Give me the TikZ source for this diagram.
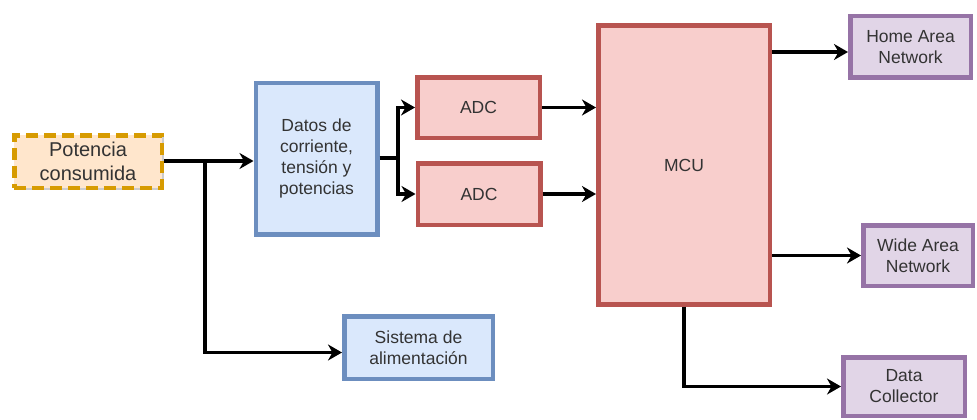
\documentclass[tikz,border=0pt]{standalone}
\usepackage{fontspec}
\setmainfont{Liberation Sans}
\usetikzlibrary{arrows.meta,shadows}

\definecolor{redline}{HTML}{B85450}
\definecolor{redfill}{HTML}{F8CECC}
\definecolor{blueline}{HTML}{6C8EBF}
\definecolor{bluefill}{HTML}{DAE8FC}
\definecolor{purpline}{HTML}{9673A6}
\definecolor{purpfill}{HTML}{E1D5E7}
\definecolor{orgline}{HTML}{D79B00}
\definecolor{orgfill}{HTML}{FFE6CC}
\definecolor{txt}{HTML}{333333}

\begin{document}
\begin{tikzpicture}[x=1pt,y=-1pt,
  box/.style={draw, line width=4.5pt, align=center, inner sep=0pt,
    text=txt, font=\fontsize{17.5}{21}\selectfont,
    drop shadow={shadow xshift=2pt, shadow yshift=-2pt, opacity=0.2, fill=black}},
  redbox/.style={box, draw=redline, fill=redfill},
  bluebox/.style={box, draw=blueline, fill=bluefill},
  purpbox/.style={box, draw=purpline, fill=purpfill},
  arr/.style={draw=black, line width=3.5pt,
    -{Stealth[length=14pt, width=16pt, inset=4.5pt]}}
]
\useasboundingbox (0,0) rectangle (977,420);

% source
\node[box, draw=orgline, fill=orgfill, dash pattern=on 12pt off 6pt,
  font=\fontsize{20}{24}\selectfont,
  minimum width=147.5pt, minimum height=52.5pt] (pot) at (88,161.5)
  {Potencia\\consumida};

% measurement and conversion
\node[bluebox, minimum width=121.5pt, minimum height=151.5pt] (dat) at (316.5,158.5)
  {Datos de\\corriente,\\tensión y\\potencias};
\node[redbox, minimum width=122.5pt, minimum height=60.5pt] (adc1) at (478.5,107.5) {ADC};
\node[redbox, minimum width=122.5pt, minimum height=61.5pt] (adc2) at (479,194) {ADC};
\node[bluebox, minimum width=148.5pt, minimum height=62.5pt] (sis) at (418.5,347.5)
  {Sistema de\\alimentación};

% controller
\node[redbox, minimum width=171.5pt, minimum height=278.5pt] (mcu) at (684,165) {MCU};

% outputs
\node[purpbox, minimum width=120.5pt, minimum height=61.5pt] (han) at (910.5,47)
  {Home Area\\Network};
\node[purpbox, minimum width=109.5pt, minimum height=60.5pt] (wan) at (918,255.5)
  {Wide Area\\Network};
\node[purpbox, minimum width=121.5pt, minimum height=58.5pt] (dc) at (904,386.5)
  {Data\\Collector};

% connectors
\coordinate (j1) at (205,161);
\coordinate (j2) at (398,158);
\draw[arr] (pot.east |- j1) -- (j1) -- (j1 -| dat.west);
\draw[arr] (j1) |- ([yshift=-5pt]sis.west);
\draw[arr] (dat.east |- j2) -- (j2) |- (adc1.west);
\draw[arr] (j2) |- (adc2.west);
\draw[arr] (adc1.east) -- (adc1.east -| mcu.west);
\draw[arr] (adc2.east) -- (adc2.east -| mcu.west);
\draw[arr] ([yshift=-5pt]han.west -| mcu.east) -- ([yshift=-5pt]han.west);
\draw[arr] (wan.west -| mcu.east) -- (wan.west);
\draw[arr] (mcu.south) |- (dc.west);
\end{tikzpicture}
\end{document}
